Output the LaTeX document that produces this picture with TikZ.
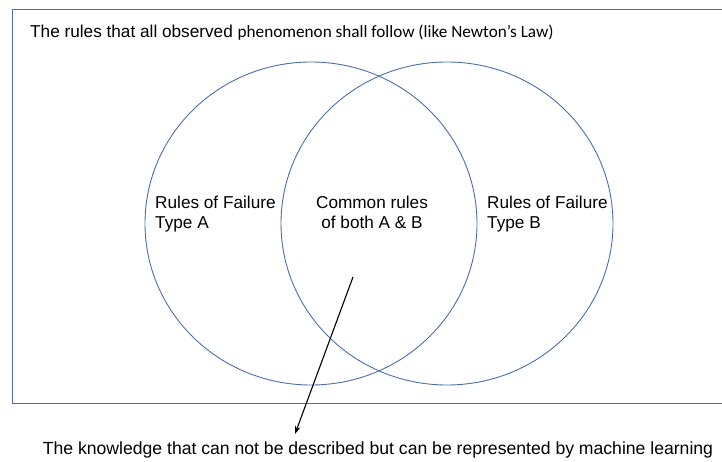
\documentclass[tikz,border=0pt]{standalone}
\usepackage{fontspec}
\setmainfont{Liberation Sans}
\newfontfamily\calibri{Carlito}
\usetikzlibrary{arrows.meta}
\definecolor{vennblue}{RGB}{76,111,170}
\tikzset{
  venn/.style={draw=vennblue,line width=0.9pt},
  lbl/.style={inner sep=0pt,font=\fontsize{17.2}{20}\selectfont},
}
\begin{document}
\begin{tikzpicture}[x=1pt,y=-1pt]
  \useasboundingbox (0,0) rectangle (722,461);
  \draw[venn] (722,9) -- (12,9) -- (12,403) -- (722,403);
  \draw[venn] (311,223.5) ellipse [x radius=166,y radius=161.5];
  \draw[venn] (447,223.5) ellipse [x radius=166,y radius=161.5];
  \node[lbl,anchor=base west] (title) at (30,37) {The rules that all observed {\calibri phenomenon shall follow (like Newton’s Law)}};
  \node[lbl,anchor=north west,align=left] (typeA) at (155,195.5) {Rules of Failure\\Type A};
  \node[lbl,anchor=north,align=center] (common) at (372,195.5) {Common rules\\of both A \& B};
  \node[lbl,anchor=north west,align=left] (typeB) at (487,195.5) {Rules of Failure\\Type B};
  \node[lbl,anchor=base,font=\fontsize{17.6}{20}\selectfont] (know) at (378,454) {The knowledge that can not be described but can be represented by machine learning};
  \coordinate (src) at (353,277);
  \coordinate (tip) at (295,434);
  \draw[line width=1.1pt,-{Stealth[length=8pt,width=5.5pt]}] (src) -- (tip);
\end{tikzpicture}
\end{document}
